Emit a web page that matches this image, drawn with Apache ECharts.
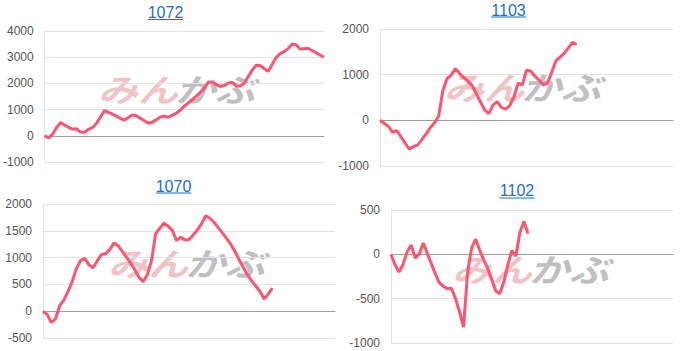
<!DOCTYPE html>
<html>
<head>
<meta charset="utf-8">
<script src="https://cdn.jsdelivr.net/npm/echarts@6/dist/echarts.min.js"></script>
<style>
html,body{margin:0;padding:0;background:#fff;}
#c{width:683px;height:351px;}
</style>
</head>
<body>
<div id="c"></div>
<script>
// ---- data ----
const titles = ['1072', '1103', '1070', '1102'];
const nCategories = 71;
const categories = Array.from({length: nCategories}, (_, i) => String(i + 1));

const values1072 = [0, -80, 60, 330, 505, 405, 325, 255, 270, 143, 138, 250, 318, 477, 721, 965,
  896, 825, 750, 660, 602, 700, 800, 764, 670, 575, 475, 528, 617, 716, 751, 713, 790, 867, 983,
  1130, 1259, 1377, 1515, 1663, 1820, 2050, 2043, 1963, 1882, 1922, 2010, 2042, 1910, 1901, 2008,
  2258, 2508, 2690, 2685, 2570, 2458, 2719, 2990, 3137, 3213, 3327, 3500, 3480, 3309, 3327, 3340,
  3254, 3174, 3086, 3000];

const values1103 = [0, -65, -131, -262, -223, -360, -498, -628, -575, -539, -421, -297, -163, -60,
  90, 645, 912, 990, 1131, 1029, 935, 858, 765, 585, 408, 230, 147, 339, 410, 283, 245, 324, 516,
  813, 775, 1100, 1080, 973, 876, 779, 814, 1045, 1301, 1383, 1468, 1587, 1707, 1660];

const values1070 = [0, -60, -210, -144, 103, 208, 371, 555, 794, 945, 984, 869, 811, 938, 1058,
  1070, 1149, 1270, 1222, 1116, 1009, 897, 775, 631, 551, 681, 939, 1446, 1548, 1640, 1587, 1508,
  1322, 1380, 1331, 1337, 1422, 1516, 1628, 1780, 1734, 1659, 1560, 1461, 1359, 1253, 1113, 965,
  820, 678, 570, 470, 372, 225, 321, 430];

const values1102 = [0, -117, -200, -110, 28, 105, -42, 2, 128, 11, -104, -217, -322, -360, -387,
  -383, -500, -645, -820, -207, 70, 172, 49, -60, -159, -285, -414, -443, -313, -117, 40, -19,
  250, 370, 235];

const yMin = [-1000, -1000, -500, -1000];
const yMax = [4000, 2000, 2000, 500];
const yStep = [1000, 1000, 500, 500];

// ---- layout / style ----
const series = [values1072, values1103, values1070, values1102];
const grids = [
  {left: 42, top: 31, width: 282, height: 131},
  {left: 380, top: 29, width: 293, height: 137},
  {left: 43, top: 204, width: 292, height: 134},
  {left: 391, top: 210, width: 282, height: 133}
];
const titlePos = [[165.5, 12.8, 19.5], [508.5, 10.6, 17], [173.5, 186.2, 193], [517, 190.5, 198]];
const logoPos = [[179, 88], [525, 86], [189, 262], [533, 267.5]];
const lineColor = '#ff5470';
const linkColor = '#1a6fd1';

const graphics = [];
titlePos.forEach((p, k) => {
  graphics.push({
    type: 'text', x: p[0], y: p[1], z: 10,
    style: {text: titles[k], fill: linkColor, font: '16px Arial, "Liberation Sans", sans-serif',
      align: 'center', verticalAlign: 'middle'}
  });
  graphics.push({
    type: 'line', z: 10,
    shape: {x1: p[0] - 17.5, y1: p[2], x2: p[0] + 17.5, y2: p[2]},
    style: {stroke: linkColor, lineWidth: 1}
  });
});
logoPos.forEach(p => {
  graphics.push({
    type: 'text', x: p[0] - 1, y: p[1], z: -1, scaleX: 1.25,
    style: {text: 'みん', fill: 'rgba(222,120,128,0.45)',
      font: 'italic bold 32px "Noto Sans CJK JP", sans-serif', align: 'right', verticalAlign: 'middle'}
  });
  graphics.push({
    type: 'text', x: p[0] - 4, y: p[1], z: -1, scaleX: 1.25,
    style: {text: 'かぶ', fill: 'rgba(150,150,150,0.6)',
      font: 'italic bold 32px "Noto Sans CJK JP", sans-serif', align: 'left', verticalAlign: 'middle'}
  });
});

const option = {
  animation: false,
  backgroundColor: '#fff',
  grid: grids.map(g => Object.assign({containLabel: false}, g)),
  xAxis: grids.map((g, k) => ({
    type: 'category', gridIndex: k, data: categories, boundaryGap: false,
    axisLine: {show: true, onZero: true, lineStyle: {color: '#9e9e9e', width: 1}},
    axisTick: {show: false}, axisLabel: {show: false}, splitLine: {show: false}
  })),
  yAxis: grids.map((g, k) => ({
    type: 'value', gridIndex: k, min: yMin[k], max: yMax[k], interval: yStep[k],
    axisLine: {show: true, lineStyle: {color: '#e3e3e3'}},
    axisTick: {show: false},
    axisLabel: {color: '#555', fontSize: 12, margin: 11, fontFamily: 'Arial, "Liberation Sans", sans-serif',
      formatter: v => String(v)},
    splitLine: {show: true, lineStyle: {color: '#e3e3e3', width: 1}}
  })),
  series: series.map((d, k) => ({
    type: 'line', xAxisIndex: k, yAxisIndex: k, data: d, showSymbol: false, symbol: 'none',
    lineStyle: {color: lineColor, width: 3}, z: 5
  })),
  graphic: graphics
};

const chart = echarts.init(document.getElementById('c'), null, {renderer: 'svg'});
chart.setOption(option);
</script>
</body>
</html>
